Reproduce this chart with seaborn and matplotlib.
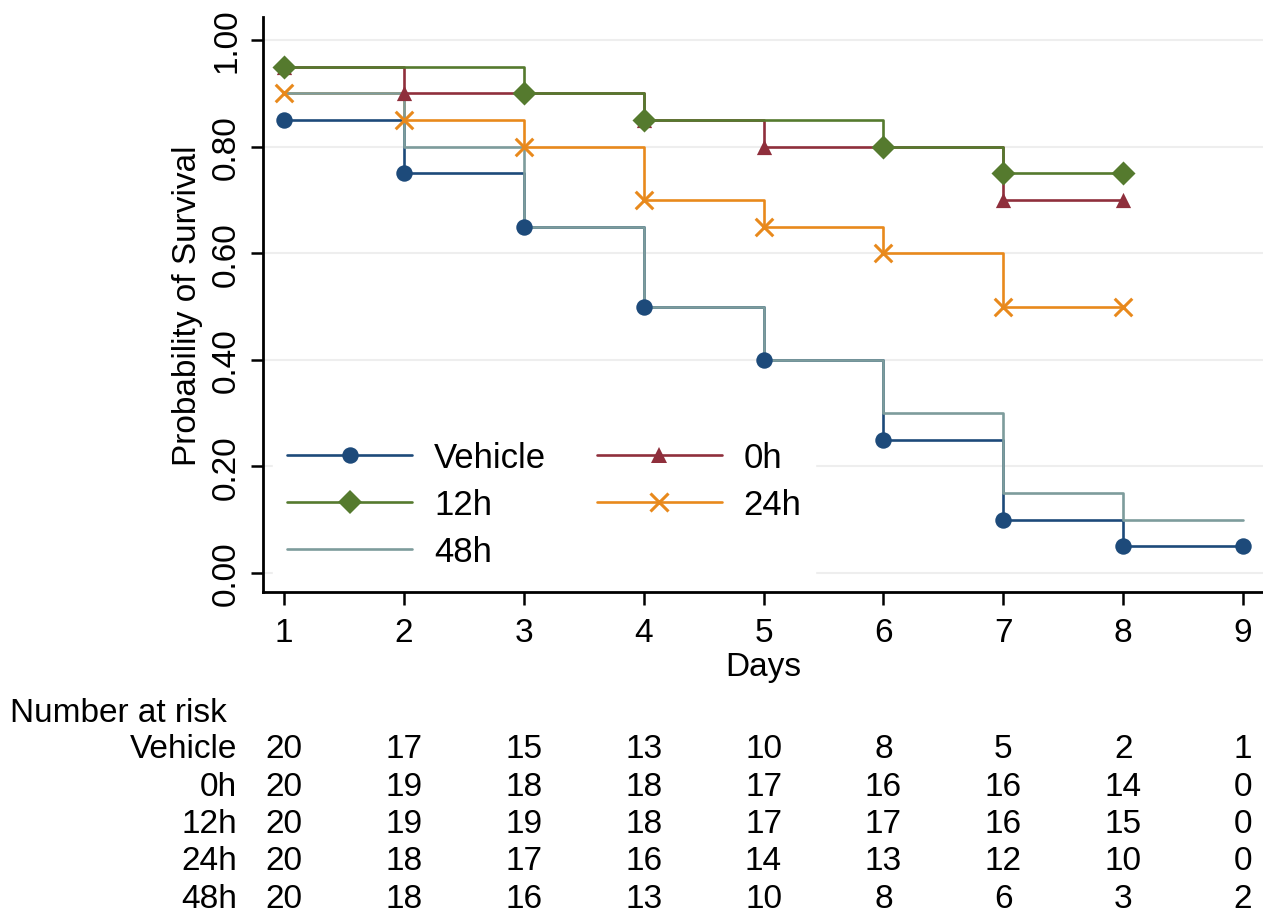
import numpy as np
import pandas as pd
import matplotlib
matplotlib.use("Agg")
import matplotlib.pyplot as plt
from matplotlib.lines import Line2D
from matplotlib.transforms import blended_transform_factory
import seaborn as sns

# ---------------- data ----------------
groups = ["Vehicle", "0h", "12h", "24h", "48h"]
days_vehicle = [1, 2, 3, 4, 5, 6, 7, 8, 9]
surv_vehicle = [0.85, 0.75, 0.65, 0.50, 0.40, 0.25, 0.10, 0.05, 0.05]
days_0h = [1, 2, 3, 4, 5, 6, 7, 8]
surv_0h = [0.95, 0.90, 0.90, 0.85, 0.80, 0.80, 0.70, 0.70]
days_12h = [1, 2, 3, 4, 5, 6, 7, 8]
surv_12h = [0.95, 0.95, 0.90, 0.85, 0.85, 0.80, 0.75, 0.75]
days_24h = [1, 2, 3, 4, 5, 6, 7, 8]
surv_24h = [0.90, 0.85, 0.80, 0.70, 0.65, 0.60, 0.50, 0.50]
days_48h = [1, 2, 3, 4, 5, 6, 7, 8, 9]
surv_48h = [0.90, 0.80, 0.65, 0.50, 0.40, 0.30, 0.15, 0.10, 0.10]

risk_days = [1, 2, 3, 4, 5, 6, 7, 8, 9]
risk_vehicle = [20, 17, 15, 13, 10, 8, 5, 2, 1]
risk_0h = [20, 19, 18, 18, 17, 16, 16, 14, 0]
risk_12h = [20, 19, 19, 18, 17, 17, 16, 15, 0]
risk_24h = [20, 18, 17, 16, 14, 13, 12, 10, 0]
risk_48h = [20, 18, 16, 13, 10, 8, 6, 3, 2]

x_ticks = [1, 2, 3, 4, 5, 6, 7, 8, 9]
y_ticks = [0.0, 0.2, 0.4, 0.6, 0.8, 1.0]

# ---------------- style ----------------
colors = {"Vehicle": "#1d4a7a", "0h": "#8f2f3c", "12h": "#557a2e",
          "24h": "#e8891c", "48h": "#7d9c9c"}
markers = {"Vehicle": "o", "0h": "^", "12h": "D", "24h": "x", "48h": None}
msizes = {"Vehicle": 140, "0h": 120, "12h": 150, "24h": 160, "48h": 0}

series = {
    "Vehicle": (days_vehicle, surv_vehicle),
    "0h": (days_0h, surv_0h),
    "12h": (days_12h, surv_12h),
    "24h": (days_24h, surv_24h),
    "48h": (days_48h, surv_48h),
}
risk = {"Vehicle": risk_vehicle, "0h": risk_0h, "12h": risk_12h,
        "24h": risk_24h, "48h": risk_48h}

sns.set_style("white")
plt.rcParams["font.family"] = ["Liberation Sans", "DejaVu Sans"]
plt.rcParams["text.color"] = "black"
plt.rcParams["axes.labelcolor"] = "black"
plt.rcParams["xtick.color"] = "black"
plt.rcParams["ytick.color"] = "black"
FS = 24

W, H = 1263, 920
fig = plt.figure(figsize=(W / 100, H / 100), dpi=100)
ax = fig.add_axes([263 / W, 1 - 593 / H, (W - 263) / W, (593 - 18) / H])

lw = 1.9
for g in groups:
    d, s = series[g]
    df = pd.DataFrame({"day": d, "surv": s})
    sns.lineplot(data=df, x="day", y="surv", ax=ax, color=colors[g],
                 drawstyle="steps-post", linewidth=lw, estimator=None,
                 sort=False, zorder=3)
    if markers[g] is not None:
        # markers at change points and at the last observation
        keep = [i for i in range(len(s))
                if i == 0 or s[i] != s[i - 1] or i == len(s) - 1]
        mdf = df.iloc[keep]
        if markers[g] == "x":
            sns.scatterplot(data=mdf, x="day", y="surv", ax=ax, marker="x",
                            color=colors[g], s=msizes[g], linewidth=2.2,
                            zorder=4)
        else:
            sns.scatterplot(data=mdf, x="day", y="surv", ax=ax,
                            marker=markers[g], color=colors[g],
                            s=msizes[g], linewidth=0, zorder=4)

ax.set_xlim(1 - 21 / 119.875, 1 + (W - 284) / 119.875)
ax.set_ylim(-19 / 533, 1 + 23 / 533)
ax.set_xticks(x_ticks)
ax.set_yticks(y_ticks)
ax.set_yticklabels([f"{v:.2f}" for v in y_ticks], rotation=90, va="center")
ax.tick_params(axis="both", direction="out", length=9, width=1.8,
               labelsize=FS, color="black", labelcolor="black",
               bottom=True, left=True)
ax.tick_params(axis="x", pad=9)
ax.tick_params(axis="y", pad=6)
ax.set_xlabel("Days", fontsize=FS, labelpad=2)
ax.set_ylabel("Probability of Survival", fontsize=FS, labelpad=6)

for sp in ["top", "right"]:
    ax.spines[sp].set_visible(False)
for sp in ["left", "bottom"]:
    ax.spines[sp].set_color("black")
    ax.spines[sp].set_linewidth(2)

ax.yaxis.grid(True, color="#eeeeee", linewidth=1.5, zorder=0)
ax.xaxis.grid(False)
ax.set_axisbelow(True)

# legend (row-wise order with two columns)
order = ["Vehicle", "12h", "48h", "0h", "24h"]
handles = []
for g in order:
    m = markers[g]
    ms = np.sqrt(msizes[g]) if m else 0
    handles.append(Line2D([], [], color=colors[g], linewidth=lw,
                          marker=m if m else None, markersize=ms,
                          markeredgewidth=2.2 if m == "x" else 0))
leg = ax.legend(handles, order, loc="lower left", ncol=2, fontsize=25,
                frameon=True, handlelength=3.6, handletextpad=0.63,
                columnspacing=1.45, labelspacing=0.4,
                bbox_to_anchor=(0.0, 0.0), borderaxespad=0.3)
leg.get_frame().set_facecolor("white")
leg.get_frame().set_edgecolor("white")
leg.get_frame().set_alpha(1)
leg.set_zorder(5)

# number-at-risk table
tr = blended_transform_factory(ax.transData, fig.transFigure)
fig.text(10 / W, 1 - 713 / H, "Number at risk", fontsize=FS,
         ha="left", va="center")
row_y = [750, 788, 825, 862, 900]
for g, yy in zip(groups, row_y):
    fig.text(237 / W, 1 - yy / H, g, fontsize=FS, ha="right", va="center")
    for dd, n in zip(risk_days, risk[g]):
        ax.text(dd, 1 - yy / H, str(n), fontsize=FS, ha="center",
                va="center", transform=tr, clip_on=False)

fig.savefig("out.png", dpi=100)
